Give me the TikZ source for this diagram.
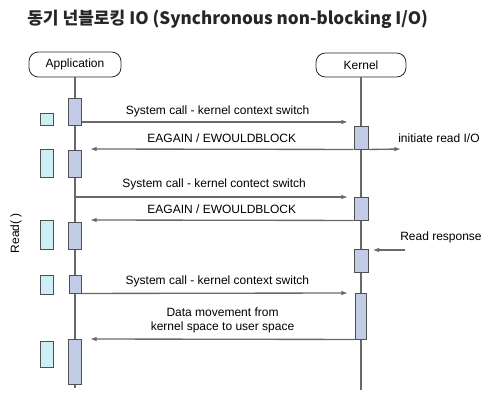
\documentclass[tikz,border=0pt]{standalone}
\usepackage{fontspec}
\setmainfont{Liberation Sans}
\newfontfamily\titlefont{Noto Sans CJK KR}
\usetikzlibrary{arrows.meta,fit}
\definecolor{actfill}{RGB}{194,204,230}
\definecolor{markfill}{RGB}{204,239,245}
\definecolor{linegray}{RGB}{105,105,105}
\definecolor{boxline}{RGB}{80,80,80}

\tikzset{
  actor/.style={draw=black!85, line width=0.6pt, rounded corners=7pt, font=\fontsize{9}{11}\selectfont},
  life/.style={draw=linegray, line width=1pt},
  act/.style={draw=boxline, fill=actfill, line width=0.7pt, inner sep=0pt},
  markbox/.style={draw=boxline, fill=markfill, line width=0.7pt, inner sep=0pt},
  msg/.style={draw=linegray, line width=1pt, -{Latex[length=5pt,width=3.5pt]}},
  lbl/.style={font=\fontsize{9}{10.5}\selectfont, inner sep=0pt}
}

\begin{document}
\begin{tikzpicture}[x=0.75pt,y=-0.75pt]
    \useasboundingbox (0,0) rectangle (492,410);
    % Title
    \node[anchor=base west, inner sep=0pt, text=black!85, font=\titlefont\bfseries\fontsize{12.8}{15}\selectfont]
        (title) at (27,25) {동기 넌블로킹 IO (Synchronous non-blocking I/O)};
    % Participants
    \node[actor, minimum width=69pt, minimum height=18.75pt] (app) at (75,64.5) {Application};
    \node[actor, minimum width=67.5pt, minimum height=18pt] (kern) at (361,65) {Kernel};
    \coordinate (append) at (75,388);
    \coordinate (kernend) at (361,390);
    \draw[life] (app) -- (append);
    \draw[life] (kern) -- (kernend);
    % Activation boxes
    \foreach \n/\l/\t/\r/\b in {1/68.5/98/81.5/125, 2/68.5/150/81.5/177, 3/68.5/222/81.5/249,
                               4/69/275/81/293, 5/68.5/339/81.5/384}
        \node[act, fit={(\l,\t) (\r,\b)}] (a\n) {};
    \foreach \n/\l/\t/\r/\b in {1/354/126/368/149, 2/354/197/368/220, 3/354/249/368/272,
                               4/355.5/293/366.5/339}
        \node[act, fit={(\l,\t) (\r,\b)}] (k\n) {};
    % Markers left of the application
    \foreach \n/\t/\b in {1/113/125, 2/149/177, 3/220/249, 4/275/294, 5/341/367}
        \node[markbox, fit={(40,\t) (53,\b)}] (m\n) {};
    \node[lbl, rotate=90] (read) at (16,233) {Read( )};
    % Messages
    \coordinate (c1) at (348,122);
    \draw[msg] (a1.east |- c1) -- (c1) node[lbl, midway, above=3.5pt, xshift=2pt] {System call - kernel context switch};
    \coordinate (c2) at (90,149);
    \draw[msg] (k1.south west) -- (c2) node[lbl, midway, above=4.5pt] {EAGAIN / EWOULDBLOCK};
    \coordinate (c3) at (401,149);
    \draw[msg] (k1.south east) -- (c3);
    \node[lbl, anchor=west] (init) at (398,138) {initiate read I/O};
    \coordinate (c4) at (348,197);
    \draw[msg] (app |- c4) -- (c4) node[lbl, midway, above=4.5pt, xshift=2pt] {System call - kernel contect switch};
    \coordinate (c5) at (90,220);
    \draw[msg] (k2.south west) -- (c5) node[lbl, midway, above=4.5pt] {EAGAIN / EWOULDBLOCK};
    \coordinate (c6) at (405,250);
    \draw[msg, shorten >=3pt] (c6) -- (k3.north east |- c6);
    \node[lbl, anchor=west] (resp) at (400,237) {Read response};
    \coordinate (c7) at (348,293);
    \draw[msg] (a4.south east) -- (c7) node[lbl, midway, above=4.5pt, xshift=2pt] {System call - kernel context switch};
    \coordinate (c8) at (90,339);
    \draw[msg] (k4.south west) -- (c8) node[lbl, midway, above=4.5pt, align=center] {Data movement from\\kernel space to user space};
\end{tikzpicture}
\end{document}
